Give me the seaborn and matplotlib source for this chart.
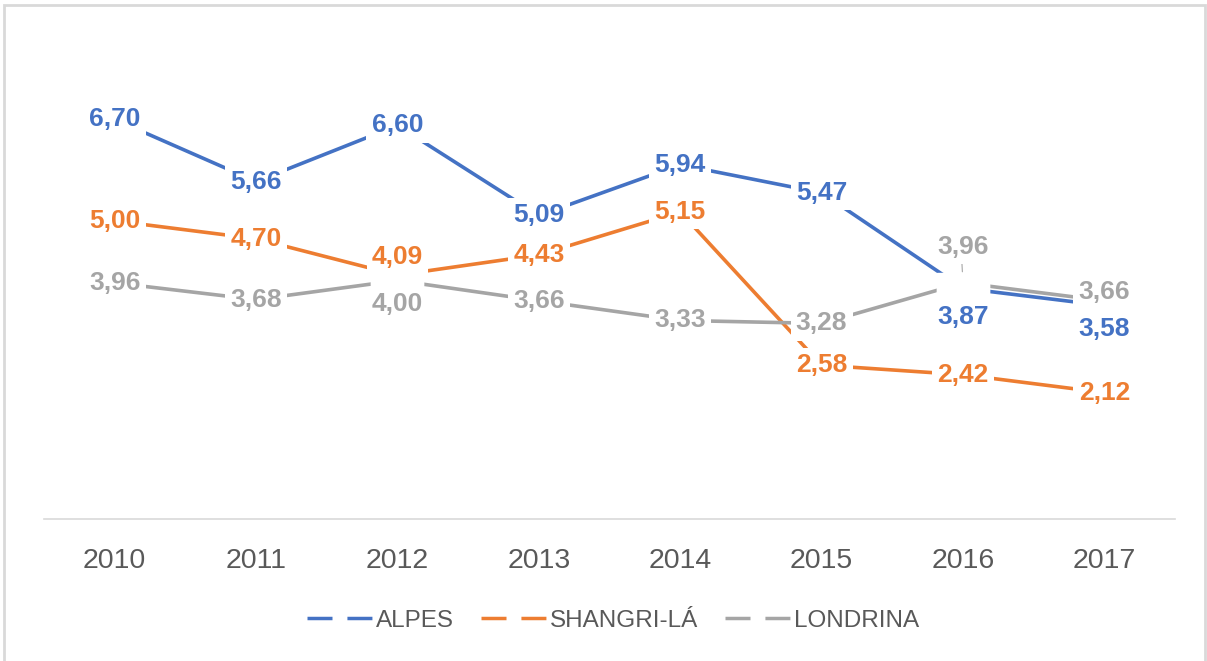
import numpy as np
import pandas as pd
import matplotlib
matplotlib.use("Agg")
import matplotlib.pyplot as plt
from matplotlib.lines import Line2D
from matplotlib.patches import Rectangle
from matplotlib.path import Path
import seaborn as sns

years = ["2010", "2011", "2012", "2013", "2014", "2015", "2016", "2017"]
alpes = [6.70, 5.66, 6.60, 5.09, 5.94, 5.47, 3.87, 3.58]
shangri_la = [5.00, 4.70, 4.09, 4.43, 5.15, 2.58, 2.42, 2.12]
londrina = [3.96, 3.68, 4.00, 3.66, 3.33, 3.28, 3.96, 3.66]
series_names = ["ALPES", "SHANGRI-LÁ", "LONDRINA"]

colors = {"ALPES": "#4472C4", "SHANGRI-LÁ": "#ED7D31", "LONDRINA": "#A5A5A5"}
# vertical label offsets in points (0 = label centred on the point)
label_dy = {
    "ALPES": [0, 0, 0, 0, 0, 0, -21, -17],
    "SHANGRI-LÁ": [0, 0, 13, 0, 0, 0, 0, 0],
    "LONDRINA": [0, 0, -17, 0, 0, 0, 26, 6],
}

df = pd.DataFrame({"Ano": years, "ALPES": alpes, "SHANGRI-LÁ": shangri_la, "LONDRINA": londrina})
long_df = df.melt(id_vars="Ano", var_name="Serie", value_name="Valor")
long_df["x"] = long_df["Ano"].map({y: i for i, y in enumerate(years)})

sns.set_theme(style="white")
plt.rcParams["font.family"] = ["Liberation Sans", "DejaVu Sans"]

fig = plt.figure(figsize=(12.07, 6.61), dpi=100)
ax = fig.add_axes([0.0365, 0.2148, 0.937, 0.7217])

sns.lineplot(data=long_df, x="x", y="Valor", hue="Serie", hue_order=series_names,
             palette=colors, linewidth=2.6, legend=False, ax=ax, zorder=2)

# white rectangles hide the line where the label was moved away from the point
box = Path([(-1, -0.4), (1, -0.4), (1, 0.4), (-1, 0.4), (-1, -0.4)],
           [Path.MOVETO, Path.LINETO, Path.LINETO, Path.LINETO, Path.CLOSEPOLY])
for name in series_names:
    vals = df[name].values
    for i, v in enumerate(vals):
        dy = label_dy[name][i]
        if abs(dy) > 10:
            ax.plot(i, v, marker=box, markersize=37, color="white", zorder=3, linestyle="none")

for name in series_names:
    vals = df[name].values
    for i, v in enumerate(vals):
        dy = label_dy[name][i]
        txt = f"{v:.2f}".replace(".", ",")
        ax.annotate(txt, xy=(i, v), xytext=(0, dy), textcoords="offset points",
                    ha="center", va="center", fontsize=19, fontweight="bold",
                    color=colors[name], zorder=5,
                    bbox=dict(boxstyle="square,pad=0.2", fc="white", ec="none"))

# leader line for the moved LONDRINA label in 2016
i16 = years.index("2016")
ax.annotate("", xy=(i16, londrina[i16]), xytext=(-1, 19), textcoords="offset points",
            arrowprops=dict(arrowstyle="-", color="#A5A5A5", lw=0.8, shrinkA=0, shrinkB=8),
            zorder=4)

ax.set_xlim(-0.5, len(years) - 0.5)
ax.set_ylim(0, 8)
ax.set_xticks(range(len(years)))
ax.set_xticklabels(years)
ax.set_yticks([])
ax.set_xlabel("")
ax.set_ylabel("")
ax.tick_params(axis="x", length=0, pad=21, labelsize=20.5, labelcolor="#595959")
for side in ["top", "left", "right"]:
    ax.spines[side].set_visible(False)
ax.spines["bottom"].set_color("#D9D9D9")
ax.spines["bottom"].set_linewidth(1.2)

handles = [Line2D([0], [0], color=colors[n], lw=2.5, dashes=(7.2, 4.3)) for n in series_names]
leg = fig.legend(handles, series_names, loc="center", bbox_to_anchor=(0.508, 0.061), ncol=3,
                 frameon=False, handlelength=2.75, handletextpad=0.1, columnspacing=1.1,
                 fontsize=17.5)
for t in leg.get_texts():
    t.set_color("#595959")

fig.patches.append(Rectangle((0.003, -0.02), 0.995, 1.012, transform=fig.transFigure,
                             fill=False, edgecolor="#D9D9D9", linewidth=2))

fig.savefig("out.png", dpi=100)
